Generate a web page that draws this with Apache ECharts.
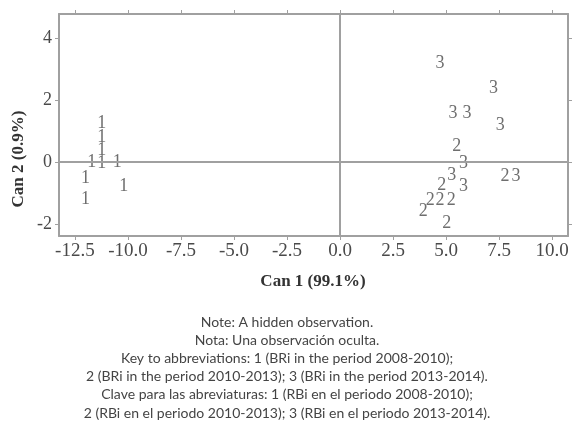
<!DOCTYPE html>
<html>
<head>
<meta charset="utf-8">
<script src="https://cdn.jsdelivr.net/npm/echarts@6/dist/echarts.min.js"></script>
<style>
  html, body { margin: 0; padding: 0; background: #fff; }
  #chart { width: 573px; height: 444px; }
</style>
</head>
<body>
<div id="chart"></div>
<script>
// Canonical discriminant scores, grouped by period (label drawn = group code)
const group1 = [
  [-11.24, 1.26], [-11.24, 0.81], [-11.24, 0.39], [-11.24, -0.03],
  [-11.70, 0.00], [-10.50, 0.00], [-12.00, -0.52], [-10.20, -0.80],
  [-12.00, -1.20]
];
const group2 = [
  [5.50, 0.49], [7.78, -0.47], [4.80, -0.74], [4.25, -1.23],
  [4.72, -1.23], [5.24, -1.23], [3.93, -1.60], [5.03, -1.98]
];
const group3 = [
  [4.72, 3.18], [7.24, 2.38], [5.33, 1.57], [5.99, 1.57],
  [7.55, 1.17], [5.82, -0.04], [5.27, -0.42], [8.30, -0.47],
  [5.82, -0.80]
];
const groupCodes = ['1', '2', '3'];

const xTicks = [-12.5, -10, -7.5, -5, -2.5, 0, 2.5, 5, 7.5, 10];
const yTicks = [-2, 0, 2, 4];
const xRange = [-13.25, 10.75];
const yRange = [-2.39, 4.77];

const xTitle = 'Can 1 (99.1%)';
const yTitle = 'Can 2 (0.9%)';

const captionLines = [
  'Note: A hidden observation.',
  'Nota: Una observación oculta.',
  'Key to abbreviations: 1 (BRi in the period 2008-2010);',
  '2 (BRi in the period 2010-2013); 3 (BRi in the period 2013-2014).',
  'Clave para las abreviaturas: 1 (RBi en el periodo 2008-2010);',
  '2 (RBi en el periodo 2010-2013); 3 (RBi en el periodo 2013-2014).'
];

const serifFamily = 'Liberation Serif';
const sansFamily = 'Lato';
const axisGray = '#a0a0a0';

function codeSeries(points, code, withRefLines) {
  const s = {
    type: 'scatter',
    data: points,
    symbolSize: 1,
    itemStyle: { color: 'rgba(0,0,0,0)' },
    label: {
      show: true,
      position: 'inside',
      formatter: code,
      color: '#4a4a4a',
      fontFamily: serifFamily,
      fontSize: 18
    },
    silent: true
  };
  if (withRefLines) {
    s.markLine = {
      silent: true,
      symbol: 'none',
      label: { show: false },
      lineStyle: { color: axisGray, width: 2, type: 'solid' },
      data: [{ xAxis: 0 }, { yAxis: 0 }]
    };
  }
  return s;
}

function baseAxis(extra) {
  return Object.assign({
    type: 'value',
    splitLine: { show: false },
    axisLine: { show: true, onZero: false, lineStyle: { color: axisGray, width: 2 } }
  }, extra);
}

const chart = echarts.init(document.getElementById('chart'), null, { renderer: 'canvas' });

chart.setOption({
  animation: false,
  backgroundColor: '#ffffff',
  grid: { left: 59, right: 5, top: 14, bottom: 208 },
  xAxis: [
    baseAxis({
      position: 'bottom',
      min: xRange[0], max: xRange[1],
      axisTick: { show: true, length: 4, customValues: xTicks, lineStyle: { color: axisGray } },
      axisLabel: {
        customValues: xTicks,
        formatter: v => v.toFixed(1),
        color: '#4a4a4a',
        fontFamily: serifFamily,
        fontSize: 19,
        margin: 6
      }
    }),
    baseAxis({
      position: 'top',
      min: xRange[0], max: xRange[1],
      axisTick: { show: true, length: 4, customValues: xTicks, lineStyle: { color: axisGray } },
      axisLabel: { show: false }
    })
  ],
  yAxis: [
    baseAxis({
      position: 'left',
      min: yRange[0], max: yRange[1],
      axisTick: { show: true, length: 4, customValues: yTicks, lineStyle: { color: axisGray } },
      axisLabel: {
        customValues: yTicks,
        color: '#4a4a4a',
        fontFamily: serifFamily,
        fontSize: 18,
        margin: 7
      }
    }),
    baseAxis({
      position: 'right',
      min: yRange[0], max: yRange[1],
      axisTick: { show: true, length: 4, customValues: yTicks, lineStyle: { color: axisGray } },
      axisLabel: { show: false }
    })
  ],
  series: [
    codeSeries(group1, groupCodes[0], true),
    codeSeries(group2, groupCodes[1], false),
    codeSeries(group3, groupCodes[2], false)
  ],
  graphic: [
    {
      type: 'text',
      x: 313, y: 282,
      silent: true,
      style: {
        text: xTitle, fill: '#333',
        font: 'bold 17px "' + serifFamily + '", serif',
        align: 'center', verticalAlign: 'middle'
      }
    },
    {
      type: 'text',
      x: 19, y: 159,
      rotation: Math.PI / 2,
      silent: true,
      style: {
        text: yTitle, fill: '#333',
        font: 'bold 17px "' + serifFamily + '", serif',
        align: 'center', verticalAlign: 'middle'
      }
    }
  ].concat(captionLines.map((line, i) => ({
    type: 'text',
    x: 287, y: 322 + i * 18.2,
    silent: true,
    style: {
      text: line,
      fill: '#444',
      font: '14px "' + sansFamily + '", sans-serif',
      align: 'center', verticalAlign: 'middle'
    }
  })))
});
</script>
</body>
</html>
